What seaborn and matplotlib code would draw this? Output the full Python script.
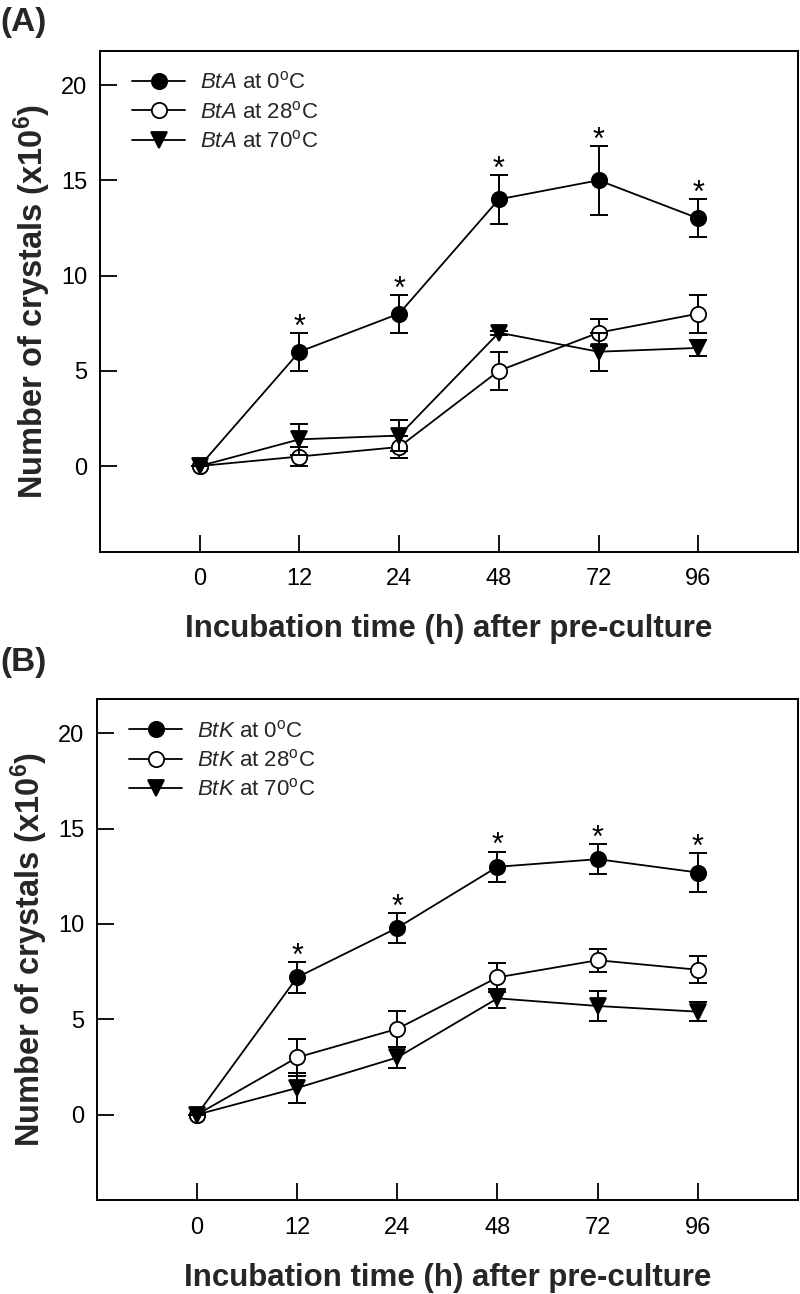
import numpy as np
import pandas as pd
import matplotlib
matplotlib.use("Agg")
import matplotlib.pyplot as plt
import seaborn as sns

# ---------------- data ----------------
times = ["0", "12", "24", "48", "72", "96"]

# Panel A (BtA)
a_0 = [0, 6.0, 8.0, 14.0, 15.0, 13.0]
a_0_err = [0, 1.0, 1.0, 1.3, 1.8, 1.0]
a_28 = [0, 0.5, 1.0, 5.0, 7.0, 8.0]
a_28_err = [0, 0.5, 0.6, 1.0, 0.7, 1.0]
a_70 = [0, 1.4, 1.6, 7.0, 6.0, 6.2]
a_70_err = [0, 0.8, 0.8, 0.1, 1.0, 0.4]
a_star = [False, True, True, True, True, True]

# Panel B (BtK)
b_0 = [0, 7.2, 9.8, 13.0, 13.4, 12.7]
b_0_err = [0, 0.8, 0.8, 0.8, 0.8, 1.0]
b_28 = [0, 3.0, 4.5, 7.2, 8.1, 7.6]
b_28_err = [0, 0.95, 0.95, 0.75, 0.6, 0.7]
b_70 = [0, 1.4, 3.0, 6.1, 5.7, 5.4]
b_70_err = [0, 0.8, 0.55, 0.5, 0.8, 0.5]
b_star = [False, True, True, True, True, True]

temps = ["0", "28", "70"]

# ---------------- style ----------------
sns.set_theme(style="ticks")
plt.rcParams["font.family"] = ["Liberation Sans", "DejaVu Sans"]
plt.rcParams["mathtext.fontset"] = "custom"
plt.rcParams["mathtext.rm"] = "Liberation Sans"
plt.rcParams["mathtext.it"] = "Liberation Sans:italic"
plt.rcParams["mathtext.bf"] = "Liberation Sans:bold"

fig = plt.figure(figsize=(8.0, 12.94), dpi=100)
axA = fig.add_axes([0.125, 0.5736, 0.8725, 0.3872])
axB = fig.add_axes([0.121, 0.0723, 0.8765, 0.3875])

marker_styles = [
    dict(marker="o", markerfacecolor="black", markersize=11),
    dict(marker="o", markerfacecolor="white", markersize=11),
    dict(marker="v", markerfacecolor="black", markersize=11.5),
]


def draw_panel(ax, strain, series, errs, stars):
    pos = np.arange(len(times))
    for i, (vals, err, t) in enumerate(zip(series, errs, temps)):
        df = pd.DataFrame({"x": pos, "y": vals})
        ax.errorbar(pos, vals, yerr=err, fmt="none", ecolor="black",
                    elinewidth=1.4, capsize=6.5, capthick=1.4, zorder=2 + i)
        sns.lineplot(data=df, x="x", y="y", ax=ax, color="black",
                     linewidth=1.3, markeredgecolor="black",
                     markeredgewidth=1.3, zorder=3 + i,
                     label=rf"$\it{{{strain}}}$ at {t}$^{{\rm o}}$C",
                     **marker_styles[i])
    top = np.array(series[0]) + np.array(errs[0])
    for p, s, tv in zip(pos, stars, top):
        if s:
            ax.text(p, tv - 0.15, "*", ha="center", va="baseline",
                    fontsize=22, color="black")

    ax.set_xlim(-1, 6)
    ax.set_ylim(-4.5, 21.8)
    ax.set_xticks(pos)
    ax.set_xticklabels(times)
    ax.set_yticks([0, 5, 10, 15, 20])
    ax.tick_params(axis="both", direction="in", length=12, width=1.3,
                   labelsize=17, colors="black", pad=12)
    ax.tick_params(axis="y", pad=9)
    for sp in ax.spines.values():
        sp.set_linewidth(1.4)
        sp.set_color("black")
    ax.set_xlabel("Incubation time (h) after pre-culture", fontsize=22.5,
                  fontweight="bold", labelpad=17)
    ax.set_ylabel(r"Number of crystals (x10$^{\mathbf{6}}$)", fontsize=23.5,
                  fontweight="bold", labelpad=6)
    ax.legend(loc="upper left", frameon=False, fontsize=16,
              handlelength=2.4, handletextpad=0.65, labelspacing=0.33,
              borderaxespad=0, borderpad=0,
              bbox_to_anchor=(0.046, 0.958))


draw_panel(axA, "BtA", [a_0, a_28, a_70], [a_0_err, a_28_err, a_70_err],
           a_star)
draw_panel(axB, "BtK", [b_0, b_28, b_70], [b_0_err, b_28_err, b_70_err],
           b_star)

fig.text(0.0, 1 - 22 / 1294, "(A)", fontsize=24, fontweight="bold",
         ha="left", va="center")
fig.text(0.0, 1 - 662 / 1294, "(B)", fontsize=24, fontweight="bold",
         ha="left", va="center")

fig.savefig("out.png", dpi=100)
